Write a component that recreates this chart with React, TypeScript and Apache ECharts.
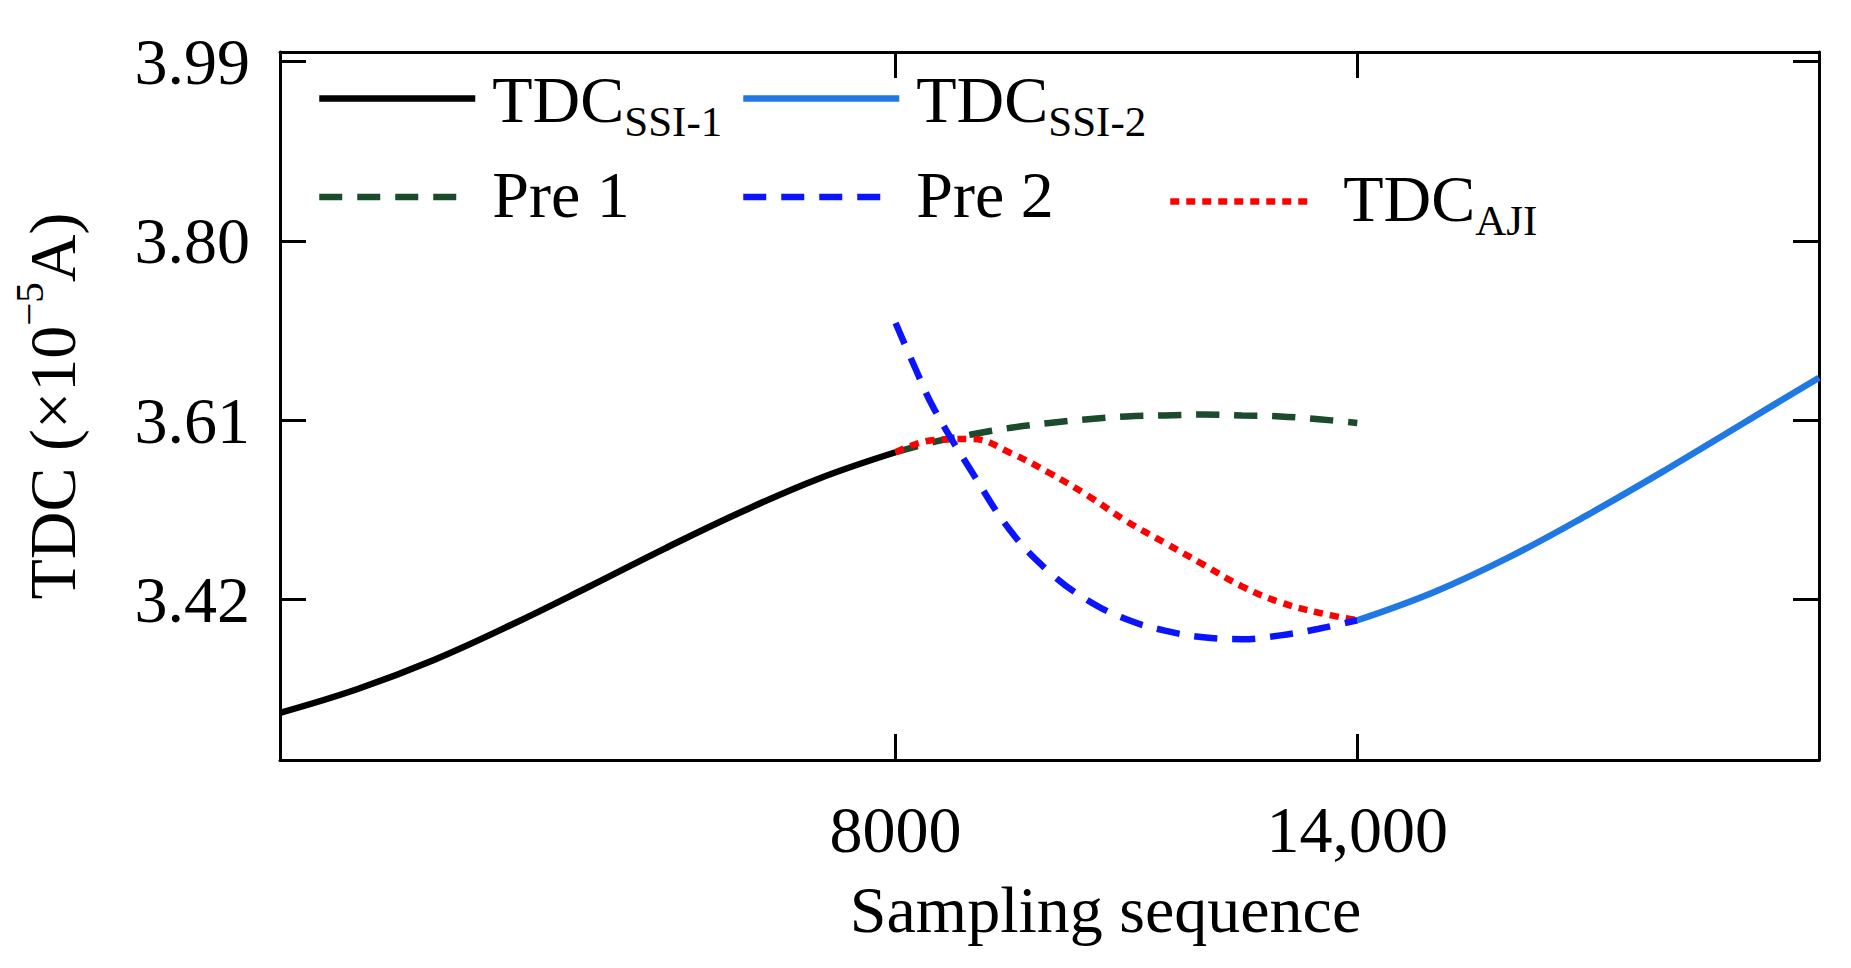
import React, { useEffect, useRef } from 'react';
import * as echarts from 'echarts';

const FONT = '"Liberation Serif", "Times New Roman", serif';

// Tick values / labels
const xTickValues = [8000, 14000];
const xTickLabels = ['8000', '14,000'];
const yTickValues = [3.42, 3.61, 3.8, 3.99];
const yTickLabels = ['3.42', '3.61', '3.80', '3.99'];

// Series data
const ssi1X = [0, 1000, 2000, 3000, 4000, 5000, 6000, 7000, 8000];
const ssi1Y = [3.3, 3.325, 3.356, 3.393, 3.433, 3.474, 3.513, 3.548, 3.576];

const pre1X = [8000, 8500, 9000, 9500, 10000, 10500, 11000, 11500, 12000, 12500, 13000, 13500, 14000];
const pre1Y = [3.576, 3.587, 3.595, 3.602, 3.607, 3.611, 3.614, 3.615, 3.616, 3.615, 3.614, 3.611, 3.607];

const pre2X = [8000, 8250, 8500, 9000, 9500, 10000, 10500, 11000, 11500, 12000, 12500, 13000, 13500, 14000];
const pre2Y = [3.713, 3.666, 3.622, 3.554, 3.492, 3.449, 3.419, 3.399, 3.387, 3.38, 3.378, 3.382, 3.389, 3.398];

const ajiX = [8000, 8500, 9000, 9500, 10000, 10500, 11000, 11500, 12000, 12500, 13000, 13500, 14000];
const ajiY = [3.576, 3.589, 3.59, 3.575, 3.554, 3.53, 3.503, 3.48, 3.457, 3.434, 3.417, 3.406, 3.398];

const ssi2X = [14000, 15000, 16000, 17000, 18000, 19000, 20000];
const ssi2Y = [3.398, 3.428, 3.466, 3.51, 3.557, 3.606, 3.655];

const zip = (xs: number[], ys: number[]) => xs.map((x, i) => [x, ys[i]]);

const lookup = (vals: number[], labels: string[]) => (v: number) => {
  const i = vals.findIndex((t) => Math.abs(t - v) < 1e-6);
  return i >= 0 ? labels[i] : '';
};

function legendItem(
  name: string,
  label: string,
  left: number,
  top: number,
  itemWidth: number,
  padLeft: number,
  row: number
) {
  const main =
    row === 1
      ? { fontSize: 66, fontFamily: FONT, color: '#000', lineHeight: 78, padding: [2, 0, 0, padLeft] }
      : { fontSize: 66, fontFamily: FONT, color: '#000', lineHeight: 74, padding: [0, 0, 6, padLeft] };
  const sub =
    row === 1
      ? { fontSize: 43, fontFamily: FONT, color: '#000', lineHeight: 30, padding: [46, 0, 0, 0] }
      : { fontSize: 43, fontFamily: FONT, color: '#000', lineHeight: 30, padding: [38, 0, 0, 0] };
  return {
    data: [name],
    left,
    top,
    orient: 'horizontal',
    padding: 0,
    itemWidth,
    itemHeight: 14,
    selectedMode: false,
    itemStyle: { opacity: 0 },
    lineStyle: { width: 6.5 },
    formatter: () => label,
    textStyle: {
      fontFamily: FONT,
      fontSize: 66,
      color: '#000',
      rich: { m: main, s: sub },
    },
  };
}

export default function App() {
  const ref = useRef<HTMLDivElement>(null);

  useEffect(() => {
    if (!ref.current) return;
    const chart = echarts.init(ref.current, undefined, { renderer: 'svg' });

    const axisLine = { show: true, onZero: false, lineStyle: { color: '#000', width: 3 } };
    const xTick = { show: true, inside: true, length: 26, customValues: xTickValues, lineStyle: { color: '#000', width: 3 } };
    const yTick = { show: true, inside: true, length: 26, customValues: yTickValues, lineStyle: { color: '#000', width: 3 } };

    const option: any = {
      animation: false,
      backgroundColor: '#fff',
      grid: { left: 279, right: 32, top: 52, bottom: 208, containLabel: false },
      legend: [
        legendItem('TDC_SSI-1', '{m|TDC}{s|SSI-1}', 316, 54, 156, 12, 1),
        legendItem('TDC_SSI-2', '{m|TDC}{s|SSI-2}', 740, 54, 156, 12, 1),
        legendItem('Pre 1', '{m|Pre 1}', 316, 161, 152, 16, 2),
        legendItem('Pre 2', '{m|Pre 2}', 740, 161, 152, 16, 2),
        legendItem('TDC_AJI', '{m|TDC}{s|AJI}', 1167, 161, 140, 28, 2),
      ],
      xAxis: [
        {
          type: 'value',
          min: 0,
          max: 20000,
          position: 'bottom',
          axisLine,
          axisTick: xTick,
          splitLine: { show: false },
          axisLabel: {
            customValues: xTickValues,
            formatter: lookup(xTickValues, xTickLabels),
            margin: 36,
            fontSize: 66,
            fontFamily: FONT,
            color: '#000',
          },
          name: 'Sampling sequence',
          nameLocation: 'middle',
          nameGap: 116,
          nameTextStyle: { fontSize: 66, fontFamily: FONT, color: '#000', padding: [0, 0, 0, 112] },
        },
        {
          type: 'value',
          min: 0,
          max: 20000,
          position: 'top',
          axisLine,
          axisTick: xTick,
          splitLine: { show: false },
          axisLabel: { show: false },
        },
      ],
      yAxis: [
        {
          type: 'value',
          min: 3.25,
          max: 4.0,
          position: 'left',
          axisLine,
          axisTick: yTick,
          splitLine: { show: false },
          axisLabel: {
            customValues: yTickValues,
            formatter: lookup(yTickValues, yTickLabels),
            margin: 30,
            fontSize: 66,
            fontFamily: FONT,
            color: '#000',
          },
          name: '{m|TDC (×10}{s|−5}{m|A)}',
          nameLocation: 'middle',
          nameGap: 193,
          nameTextStyle: {
            fontSize: 66,
            fontFamily: FONT,
            color: '#000',
            rich: {
              m: { fontSize: 66, fontFamily: FONT, color: '#000', lineHeight: 70 },
              s: { fontSize: 41, fontFamily: FONT, color: '#000', lineHeight: 20, padding: [0, 0, 47, 0] },
            },
          },
        },
        {
          type: 'value',
          min: 3.25,
          max: 4.0,
          position: 'right',
          axisLine,
          axisTick: yTick,
          splitLine: { show: false },
          axisLabel: { show: false },
        },
      ],
      series: [
        {
          name: 'TDC_SSI-1',
          type: 'line',
          data: zip(ssi1X, ssi1Y),
          symbol: 'none',
          smooth: 0.4,
          color: '#000000',
          lineStyle: { color: '#000000', width: 6.5 },
          z: 2,
        },
        {
          name: 'TDC_SSI-2',
          type: 'line',
          data: zip(ssi2X, ssi2Y),
          symbol: 'none',
          smooth: 0.4,
          color: '#1f78e3',
          lineStyle: { color: '#1f78e3', width: 6.5 },
          z: 2,
        },
        {
          name: 'Pre 1',
          type: 'line',
          data: zip(pre1X, pre1Y),
          symbol: 'none',
          smooth: 0.4,
          color: '#1b4a2c',
          lineStyle: { color: '#1b4a2c', width: 6.5, type: [23, 15] },
          z: 3,
        },
        {
          name: 'Pre 2',
          type: 'line',
          data: zip(pre2X, pre2Y),
          symbol: 'none',
          smooth: 0.4,
          color: '#0a14ff',
          lineStyle: { color: '#0a14ff', width: 6.5, type: [23, 15] },
          z: 5,
        },
        {
          name: 'TDC_AJI',
          type: 'line',
          data: zip(ajiX, ajiY),
          symbol: 'none',
          smooth: 0.4,
          color: '#ff0000',
          lineStyle: { color: '#ff0000', width: 6.5, type: [9, 7] },
          z: 4,
        },
      ],
    };

    chart.setOption(option);
    return () => chart.dispose();
  }, []);

  return (
    <div
      ref={ref}
      style={{ position: 'fixed', left: 0, top: 0, width: '1851px', height: '968px', background: '#fff' }}
    />
  );
}
